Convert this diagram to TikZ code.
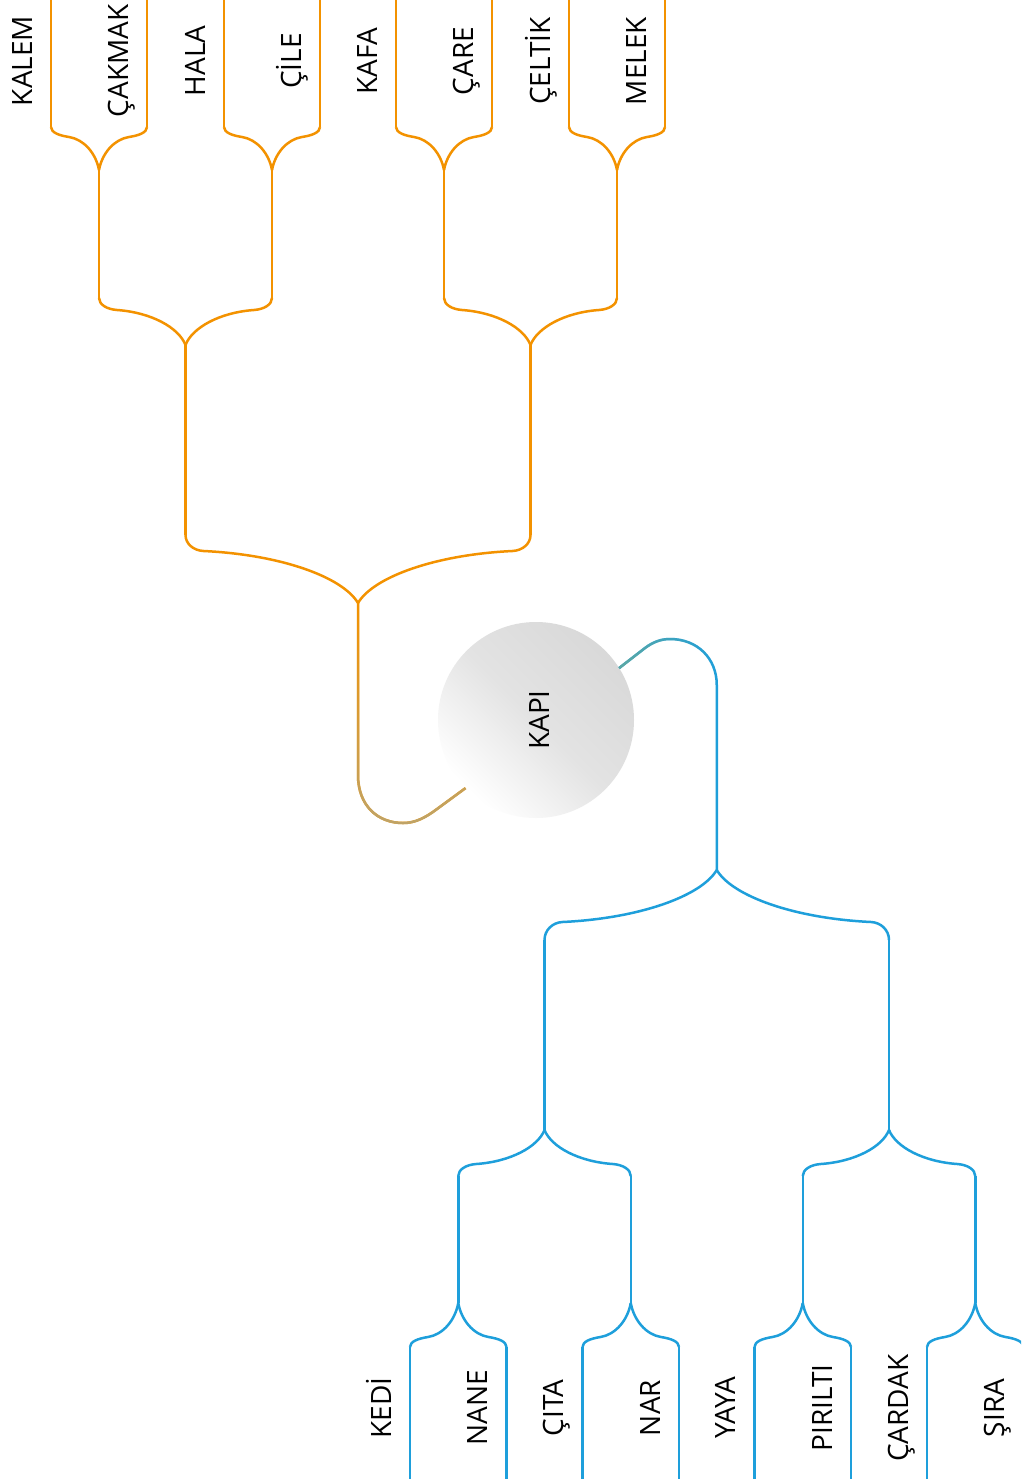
\documentclass[tikz,border=0pt]{standalone}
\usepackage{fontspec}
\setmainfont{Open Sans}
\usetikzlibrary{fadings}

\definecolor{mmorange}{HTML}{F39200}
\definecolor{mmtan}{HTML}{BFA468}
\definecolor{mmblue}{HTML}{1E9FDB}
\definecolor{mmteal}{HTML}{5EA8A2}

\tikzfading[name=fadedown, top color=transparent!100, bottom color=transparent!0]
\tikzfading[name=fadeleft, left color=transparent!0, middle color=transparent!25, right color=transparent!100]

% One arm of a fork: colour, junction x, junction y,
% signed half width, signed bend depth, signed corner depth.
\newcommand\forkarm[6]{%
  \pgfmathsetmacro\bhs{(#4>0)?1:-1}%
  \pgfmathsetmacro\bwa{#4-\bhs*18}%
  \pgfmathsetmacro\bax{#2+\bwa}%
  \pgfmathsetmacro\bay{#3+#5}%
  \pgfmathsetmacro\bcax{#2+0.1*\bwa}%
  \pgfmathsetmacro\bcay{#3+0.5*#5}%
  \pgfmathsetmacro\bcbx{#2+0.5*\bwa}%
  \pgfmathsetmacro\bcby{#3+0.93*#5}%
  \pgfmathsetmacro\bccx{\bax+\bhs*10}%
  \pgfmathsetmacro\bccy{\bay+1.4*#5/abs(\bwa)}%
  \pgfmathsetmacro\bex{#2+#4}%
  \pgfmathsetmacro\bey{#3+#6}%
  \pgfmathsetmacro\bcdy{\bay+0.45*(#6-#5)}%
  \draw[#1] (#2,#3) .. controls (\bcax,\bcay) and (\bcbx,\bcby) .. (\bax,\bay)
     .. controls (\bccx,\bccy) and (\bex,\bcdy) .. (\bex,\bey);
}
% Both arms of a fork: colour, junction x, junction y, half width, bend depth, corner depth.
\newcommand\fork[6]{%
  \forkarm{#1}{#2}{#3}{-#4}{#5}{#6}%
  \forkarm{#1}{#2}{#3}{#4}{#5}{#6}%
}

\begin{document}
\begin{tikzpicture}[x=1pt, y=-1pt, line width=2.5pt, line join=round,
  lbl/.style={rotate=90, anchor=base, inner sep=0pt, font=\fontsize{28}{34}\selectfont},
  hub/.style={circle, minimum size=196pt, inner sep=0pt, outer sep=0pt,
    top color=black!15, bottom color=white, middle color=black!11, shading angle=-45,
    font=\fontsize{28}{34}\selectfont}]
\useasboundingbox (0,0) rectangle (1021,1479);
\fill[white] (0,0) rectangle (1021,1479);
\clip (0,0) rectangle (1021,1479);

% central topic
\node[hub] (kapi) at (536,720) {\hspace{6pt}\rotatebox{90}{KAPI}};

% ---------- upper (orange) tree ----------
\coordinate (oroot) at (358,603);
\draw[mmorange] (oroot) -- (358,775) .. controls (358,806) and (378,823) .. (403,823)
   .. controls (415,823) and (425,818) .. (437,809) -- (kapi.224);
\draw[mmtan, path fading=fadedown] (oroot) -- (358,775) .. controls (358,806) and (378,823) .. (403,823)
   .. controls (415,823) and (425,818) .. (437,809) -- (kapi.224);

\fork{mmorange}{358}{603}{172.5}{-52}{-68}
\coordinate (o1) at (185.5,345);
\coordinate (o2) at (530.5,345);
\draw[mmorange] (185.5,535) -- (o1);
\draw[mmorange] (530.5,535) -- (o2);
\fork{mmorange}{185.5}{345}{86.5}{-35}{-47}
\fork{mmorange}{530.5}{345}{86.5}{-35}{-47}
\foreach \x/\n in {99/o11, 272/o12, 444/o21, 617/o22}{
  \coordinate (\n) at (\x,170);
  \draw[mmorange] (\x,298) -- (\n);
  \fork{mmorange}{\x}{170}{48}{-33}{-43}
}
\foreach \x in {51,147,224,320,396,492,569,665}
  \draw[mmorange] (\x,127) -- (\x,-10);

\node[lbl] (kalem)  at (32,61)  {KALEM};
\node[lbl] (cakmak) at (128,61) {ÇAKMAK};
\node[lbl] (hala)   at (205,61) {HALA};
\node[lbl] (cile)   at (301,61) {ÇİLE};
\node[lbl] (kafa)   at (377,61) {KAFA};
\node[lbl] (care)   at (473,61) {ÇARE};
\node[lbl] (celtik) at (550,61) {ÇELTİK};
\node[lbl] (melek)  at (646,61) {MELEK};

% ---------- lower (blue) tree ----------
\coordinate (broot) at (716.75,870);
\draw[mmblue] (kapi.32) -- (645,648) .. controls (653,642) and (661,639) .. (670,639)
   .. controls (697,639) and (716.75,658) .. (716.75,685) -- (broot);
\draw[mmteal, path fading=fadeleft] (kapi.32) -- (645,648) .. controls (653,642) and (661,639) .. (670,639)
   .. controls (697,639) and (716.75,658) .. (716.75,685) -- (broot);

\fork{mmblue}{716.75}{870}{172.25}{52}{70}
\coordinate (b1) at (544.5,1130);
\coordinate (b2) at (889,1130);
\draw[mmblue] (544.5,940) -- (b1);
\draw[mmblue] (889,940) -- (b2);
\fork{mmblue}{544.5}{1130}{86.25}{34}{46}
\fork{mmblue}{889}{1130}{86.25}{34}{46}
\foreach \x/\n in {458.25/b11, 630.75/b12, 802.75/b21, 975.25/b22}{
  \coordinate (\n) at (\x,1303);
  \draw[mmblue] (\x,1176) -- (\n);
  \fork{mmblue}{\x}{1303}{48.25}{34}{44}
}
\foreach \x in {410,506.5,582.5,679,754.5,851,927,1023.5}
  \draw[mmblue] (\x,1347) -- (\x,1490);

\node[lbl] (kedi)    at (391,1408)   {KEDİ};
\node[lbl] (nane)    at (487.5,1408) {NANE};
\node[lbl] (cita)    at (563.5,1408) {ÇITA};
\node[lbl] (nar)     at (660,1408)   {NAR};
\node[lbl] (yaya)    at (735.5,1408) {YAYA};
\node[lbl] (pirilti) at (832,1408)   {PIRILTI};
\node[lbl] (cardak)  at (908,1408)   {ÇARDAK};
\node[lbl] (sira)    at (1004.5,1408) {ŞIRA};
\end{tikzpicture}
\end{document}
